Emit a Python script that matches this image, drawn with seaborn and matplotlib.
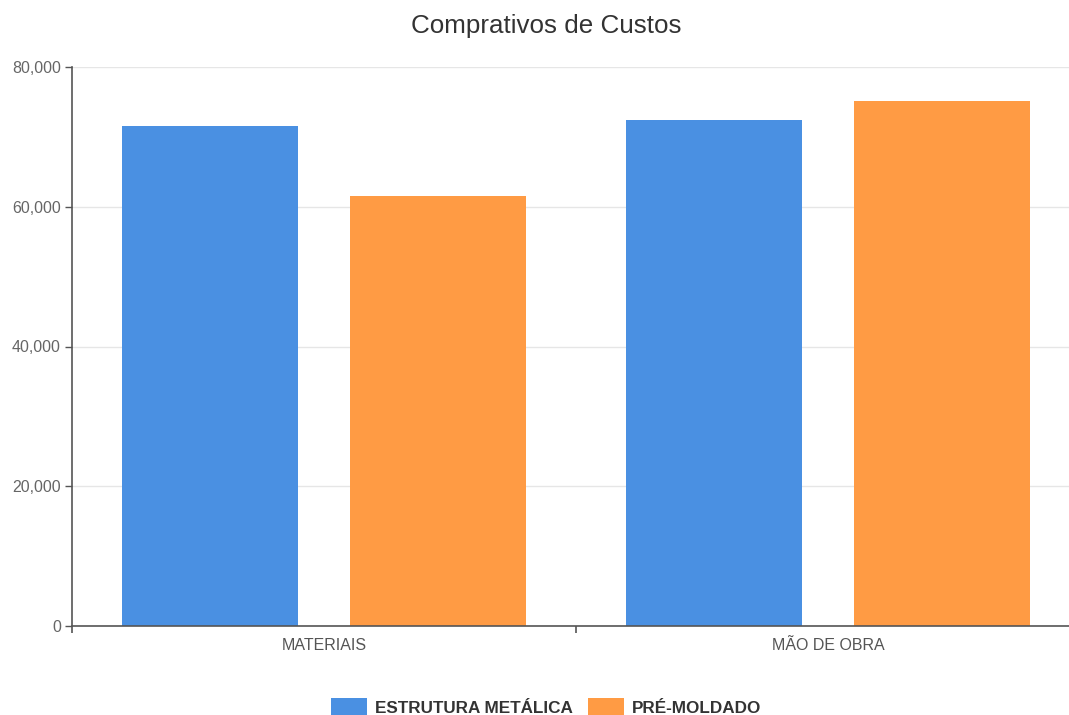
import matplotlib
matplotlib.use("Agg")
import matplotlib.pyplot as plt
import seaborn as sns
import pandas as pd
from matplotlib.ticker import FuncFormatter, FixedLocator
from matplotlib.patches import Patch

categories = ["MATERIAIS", "MÃO DE OBRA"]
series = ["ESTRUTURA METÁLICA", "PRÉ-MOLDADO"]
estrutura_metalica = [71600, 72400]
pre_moldado = [61500, 75200]
colors = ["#4A90E2", "#FF9B44"]
title = "Comprativos de Custos"

sns.set_theme(style="white")
plt.rcParams["font.family"] = ["Liberation Sans", "DejaVu Sans"]

df = pd.DataFrame({
    "categoria": categories * 2,
    "serie": [series[0]] * len(categories) + [series[1]] * len(categories),
    "valor": estrutura_metalica + pre_moldado,
})

fig = plt.figure(figsize=(10.69, 7.15), dpi=100)
ax = fig.add_axes([72 / 1069, 89 / 715, 1 - 72 / 1069, (626 - 67) / 715])

sns.barplot(data=df, x="categoria", y="valor", hue="serie", order=categories,
            hue_order=series, palette=colors, width=0.905, gap=0.228,
            saturation=1, ax=ax, legend=False, linewidth=0)

ax.set_xlim(-0.5, (1069 - 72) / 504 - 0.5)
ax.set_ylim(0, 80000)
ax.set_yticks([0, 20000, 40000, 60000, 80000])
ax.yaxis.set_major_formatter(FuncFormatter(lambda v, p: f"{int(v):,}"))
ax.grid(axis="y", color="#e6e6e6", linewidth=1)
ax.set_axisbelow(True)
ax.set_xlabel("")
ax.set_ylabel("")

for s in ["top", "right"]:
    ax.spines[s].set_visible(False)
for s in ["left", "bottom"]:
    ax.spines[s].set_color("#555555")
    ax.spines[s].set_linewidth(1.2)

ax.tick_params(axis="y", which="major", left=True, length=5, width=1, color="#555555",
               labelsize=11.5, labelcolor="#666666", pad=3)
ax.tick_params(axis="x", which="major", bottom=False, length=0, labelsize=11.5,
               labelcolor="#555555", pad=9)
ax.xaxis.set_minor_locator(FixedLocator([-0.5, 0.5, 1.5]))
ax.tick_params(axis="x", which="minor", bottom=True, length=5, width=1.2, color="#555555")

fig.text(546 / 1069, 1 - 26 / 715, title, fontsize=18.7, color="#333333",
         ha="center", va="center")

handles = [Patch(facecolor=c, edgecolor="none") for c in colors]
leg = fig.legend(handles, series, loc="center", bbox_to_anchor=(546 / 1069, 1 - 707 / 715),
                 ncol=2, frameon=False, handlelength=2.1, handleheight=1.3,
                 columnspacing=0.9, handletextpad=0.45,
                 prop={"weight": "bold", "size": 12.3})
for t in leg.get_texts():
    t.set_color("#333333")

fig.savefig("out.png", dpi=100)
